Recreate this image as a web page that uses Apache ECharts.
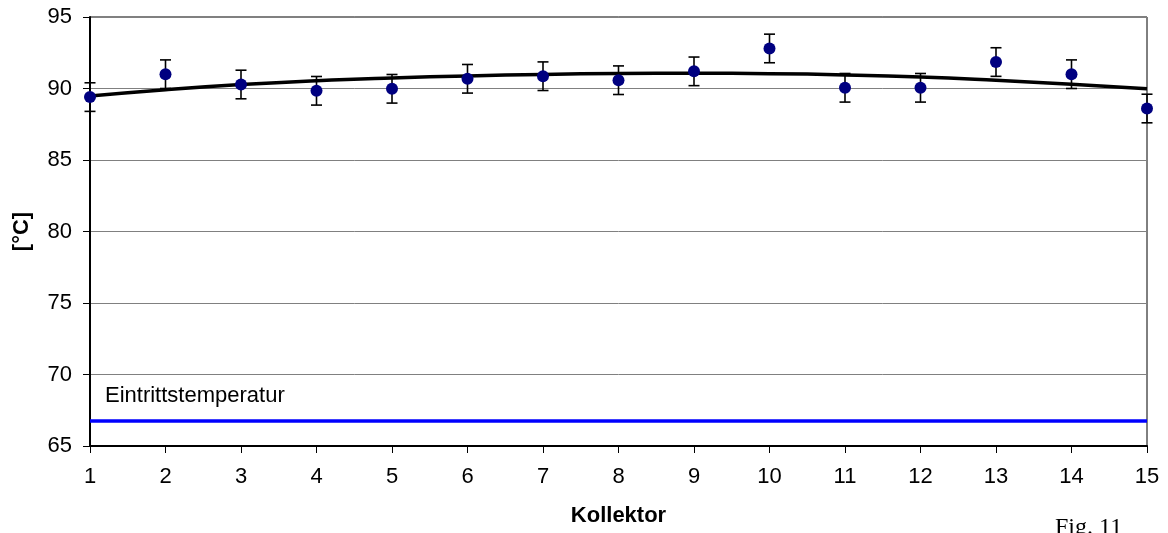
<!DOCTYPE html>
<html>
<head>
<meta charset="utf-8">
<script src="https://cdn.jsdelivr.net/npm/echarts@6/dist/echarts.min.js"></script>
<style>
html,body{margin:0;padding:0;background:#fff;}
#chart{width:1168px;height:533px;}
</style>
</head>
<body>
<div id="chart"></div>
<script>
var kollektor = [1,2,3,4,5,6,7,8,9,10,11,12,13,14,15];
var temperatur = [89.4,91.0,90.28,89.84,89.98,90.68,90.86,90.58,91.2,92.8,90.05,90.05,91.85,91.0,88.6];
var fehler = [1.0,1.0,1.0,1.0,1.0,1.0,1.0,1.0,1.0,1.0,1.0,1.0,1.0,1.0,1.0];
var trend = [89.48,89.92,90.28,90.55,90.74,90.88,90.98,91.05,91.07,91.04,90.95,90.8,90.57,90.3,89.98];
var eintritt = 66.75;
var eintrittX = [1,15];
var yTicks = {min:65, max:95, interval:5};
var xTicks = {min:1, max:15, interval:1};

var pointData = kollektor.map(function(k,i){return [k, temperatur[i]];});
var errData = kollektor.map(function(k,i){return [k, temperatur[i]-fehler[i], temperatur[i]+fehler[i]];});
var trendData = kollektor.map(function(k,i){return [k, trend[i]];});
var eintrittData = eintrittX.map(function(k){return [k, eintritt];});

var chart = echarts.init(document.getElementById('chart'));
chart.setOption({
  animation:false,
  backgroundColor:'#fff',
  grid:{left:90,right:21,top:17,bottom:87,show:true,borderColor:'#000',borderWidth:1},
  xAxis:{
    type:'value',min:xTicks.min,max:xTicks.max,interval:xTicks.interval,
    name:'Kollektor',nameLocation:'middle',nameGap:59,
    nameTextStyle:{fontFamily:'Liberation Sans',fontWeight:'bold',fontSize:22,color:'#000'},
    axisLine:{show:true,onZero:false,lineStyle:{color:'#000',width:2}},
    axisTick:{show:true,inside:false,length:7,lineStyle:{color:'#000',width:1}},
    axisLabel:{margin:20,fontFamily:'Liberation Sans',fontSize:22,color:'#000'},
    splitLine:{show:false}
  },
  yAxis:{
    type:'value',min:yTicks.min,max:yTicks.max,interval:yTicks.interval,
    name:'[°C]',nameLocation:'middle',nameGap:57,nameRotate:90,
    nameTextStyle:{fontFamily:'Liberation Sans',fontWeight:'bold',fontSize:22,color:'#000'},
    axisLine:{show:true,onZero:false,lineStyle:{color:'#000',width:2}},
    axisTick:{show:true,inside:false,length:7,lineStyle:{color:'#000',width:1}},
    axisLabel:{margin:18,fontFamily:'Liberation Sans',fontSize:22,color:'#000'},
    splitLine:{show:true,lineStyle:{color:'#808080',width:1}}
  },
  series:[
    {
      type:'line',data:eintrittData,showSymbol:false,symbol:'none',
      lineStyle:{color:'#0000ff',width:3.5},z:3
    },
    {
      type:'line',data:trendData,smooth:true,showSymbol:false,symbol:'none',
      lineStyle:{color:'#000',width:3.5},z:4
    },
    {
      type:'custom',data:errData,z:5,
      renderItem:function(params,api){
        var x=api.value(0);
        var lo=api.coord([x,api.value(1)]);
        var hi=api.coord([x,api.value(2)]);
        var w=5.5;
        var st={stroke:'#000',lineWidth:1.6};
        return {type:'group',children:[
          {type:'line',shape:{x1:lo[0],y1:lo[1],x2:hi[0],y2:hi[1]},style:st},
          {type:'line',shape:{x1:lo[0]-w,y1:lo[1],x2:lo[0]+w,y2:lo[1]},style:st},
          {type:'line',shape:{x1:hi[0]-w,y1:hi[1],x2:hi[0]+w,y2:hi[1]},style:st}
        ]};
      }
    },
    {
      type:'scatter',data:pointData,symbol:'circle',symbolSize:12,
      itemStyle:{color:'#000080',opacity:1},z:6
    }
  ],
  graphic:[
    {type:'text',left:105,top:385,style:{text:'Eintrittstemperatur',fontFamily:'Liberation Sans',fontSize:22,fill:'#000'}},
    {type:'text',left:1055,top:516,style:{text:'Fig. 11',fontFamily:'Liberation Serif',fontSize:24,fill:'#000'}}
  ]
});
</script>
</body>
</html>
